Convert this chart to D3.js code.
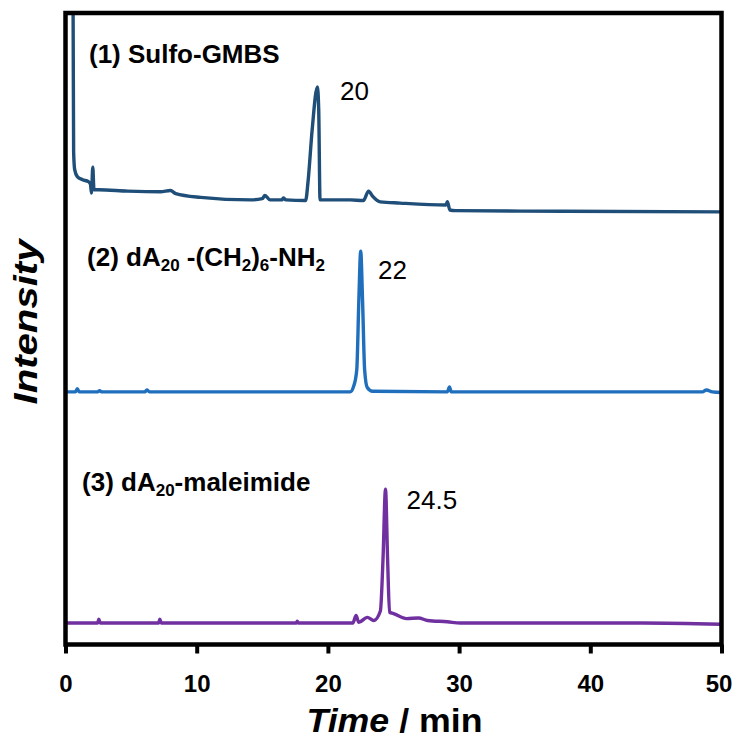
<!DOCTYPE html>
<html>
<head>
<meta charset="utf-8">
<script src="https://cdn.jsdelivr.net/npm/d3@7"></script>
<style>
  body { margin: 0; background: #fff; }
  svg { display: block; }
</style>
</head>
<body>
<svg id="chart" width="732" height="738"></svg>
<script>
// retention time (min) vs intensity (arb. units, traces already offset)
const xTicks = [0, 10, 20, 30, 40, 50];

const sulfoGMBS = [
  [0.45, 125], [0.58, 100], [0.62, 78], [0.7, 75.2], [0.9, 74.1], [1.3, 73.6], [1.75, 73.3],
  [1.9, 72.9], [1.98, 71.5], [2.08, 75.6], [2.17, 72.0], [2.52, 72.0], [4.73, 71.8],
  [7.24, 71.7], [8.0, 71.9], [8.4, 71.4], [10.3, 70.8], [14.1, 70.4], [15.0, 70.6],
  [15.2, 71.1], [15.6, 70.4], [16.5, 70.4], [16.6, 70.7], [16.8, 70.4], [18.3, 70.3],
  [18.5, 73.6], [18.8, 81.5], [19.2, 88.3], [19.3, 84.7], [19.4, 70.4], [21.7, 70.4],
  [22.7, 70.3], [23.1, 71.8], [23.4, 71.0], [24.0, 70.1], [25.5, 69.9], [29.0, 69.6],
  [29.1, 70.1], [29.3, 68.8], [29.7, 68.7], [38.0, 68.6], [50, 68.5]
];

const dA20NH2 = [
  [0, 40.0], [0.75, 40.0], [0.9, 40.5], [1.05, 40.0], [2.45, 40.0], [2.6, 40.2], [2.75, 40.0],
  [6.05, 40.0], [6.2, 40.3], [6.4, 40.0], [21.7, 40.0], [21.95, 40.8], [22.2, 43.5],
  [22.36, 54.6], [22.5, 62.3], [22.64, 54.6], [22.8, 43.5], [23.0, 40.7], [23.4, 40.1],
  [29.1, 40.0], [29.27, 40.8], [29.4, 40.0], [48.55, 40.0], [48.85, 40.3], [49.3, 40.0],
  [50, 39.9]
];

const dA20Mal = [
  [0, 3.4], [2.45, 3.4], [2.54, 4.0], [2.65, 3.4], [7.1, 3.4], [7.19, 4.0], [7.3, 3.4],
  [17.6, 3.4], [17.66, 3.7], [17.75, 3.4], [21.9, 3.4], [22.15, 4.6], [22.35, 3.5],
  [23.0, 4.3], [23.5, 3.8], [24.0, 5.3], [24.2, 13.5], [24.39, 24.6], [24.55, 13.5],
  [24.7, 5.1], [25.0, 4.9], [26.0, 4.1], [26.9, 4.2], [27.6, 3.8], [29.1, 3.6],
  [30.1, 3.4], [44.0, 3.4], [50, 3.2]
];

const seriesData = [sulfoGMBS, dA20NH2, dA20Mal];
const seriesColors = ["#1f4e79", "#1f6fbd", "#7030a0"];

// peak retention labels: [time, intensity, text]
const peakLabels = [[20.92, 86.2, "20"], [23.82, 57.8, "22"], [26.0, 21.4, "24.5"]];

// trace name labels: [time, intensity, parts]  (parts: [text, isSubscript])
const nameLabels = [
  [1.79, 92.1, [["(1) Sulfo-GMBS", false]]],
  [1.64, 59.9, [["(2) dA", false], ["20", true], [" -(CH", false], ["2", true], [")", false], ["6", true], ["-NH", false], ["2", true]]],
  [1.26, 24.3, [["(3) dA", false], ["20", true], ["-maleimide", false]]]
];

const margin = { left: 65.5, right: 10.5, top: 13, bottom: 93.5 };
const width = 732, height = 738;

const svg = d3.select("#chart");
svg.append("rect").attr("width", width).attr("height", height).attr("fill", "#fff");

const x = d3.scaleLinear().domain([0, 50]).range([margin.left, width - margin.right]);
const y = d3.scaleLinear().domain([0, 100]).range([height - margin.bottom, margin.top]);

svg.append("clipPath").attr("id", "plotclip")
  .append("rect")
  .attr("x", x(0)).attr("y", y(100))
  .attr("width", x(50) - x(0)).attr("height", y(0) - y(100));

const line = d3.line()
  .x(d => x(d[0]))
  .y(d => y(d[1]))
  .curve(d3.curveMonotoneX);

svg.append("g")
  .attr("clip-path", "url(#plotclip)")
  .selectAll("path")
  .data(seriesData)
  .join("path")
  .attr("d", line)
  .attr("fill", "none")
  .attr("stroke", (d, i) => seriesColors[i])
  .attr("stroke-width", 3.4)
  .attr("stroke-linejoin", "round");

// frame
svg.append("rect")
  .attr("x", x(0)).attr("y", y(100))
  .attr("width", x(50) - x(0)).attr("height", y(0) - y(100))
  .attr("fill", "none")
  .attr("stroke", "#000")
  .attr("stroke-width", 4.5);

// bottom axis
const xAxis = svg.append("g")
  .attr("transform", `translate(0,${y(0)})`)
  .call(d3.axisBottom(x).tickValues(xTicks).tickSize(9).tickPadding(21).tickFormat(d3.format("d")));
xAxis.select(".domain").remove();
xAxis.selectAll(".tick line").attr("stroke", "#000").attr("stroke-width", 4);
xAxis.selectAll(".tick text")
  .attr("fill", "#000")
  .attr("font-family", "Liberation Sans, Arial, sans-serif")
  .attr("font-weight", "bold")
  .attr("font-size", 24)
  .attr("dx", d => d === 50 ? -3 : 0);

// axis titles
const xTitle = svg.append("text")
  .attr("x", (x(0) + x(50)) / 2 + 1)
  .attr("y", 732)
  .attr("text-anchor", "middle")
  .attr("font-family", "Liberation Sans, Arial, sans-serif")
  .attr("font-weight", "bold")
  .attr("font-size", 33)
  .attr("textLength", 176)
  .attr("lengthAdjust", "spacingAndGlyphs");
xTitle.append("tspan").attr("font-style", "italic").text("Time");
xTitle.append("tspan").text(" / min");

svg.append("text")
  .attr("transform", `translate(37,${322}) rotate(-90)`)
  .attr("text-anchor", "middle")
  .attr("font-family", "Liberation Sans, Arial, sans-serif")
  .attr("font-weight", "bold")
  .attr("font-style", "italic")
  .attr("font-size", 33)
  .attr("textLength", 165)
  .attr("lengthAdjust", "spacingAndGlyphs")
  .text("Intensity");

// peak labels
svg.selectAll(".peak")
  .data(peakLabels)
  .join("text")
  .attr("class", "peak")
  .attr("x", d => x(d[0]))
  .attr("y", d => y(d[1]))
  .attr("font-family", "Liberation Sans, Arial, sans-serif")
  .attr("font-size", 26)
  .attr("fill", "#000")
  .text(d => d[2]);

// trace names
nameLabels.forEach(([t, v, parts]) => {
  const txt = svg.append("text")
    .attr("x", x(t))
    .attr("y", y(v))
    .attr("font-family", "Liberation Sans, Arial, sans-serif")
    .attr("font-weight", "bold")
    .attr("font-size", 26)
    .attr("fill", "#000");
  let shifted = false;
  parts.forEach(([s, sub]) => {
    const ts = txt.append("tspan").text(s);
    if (sub && !shifted) { ts.attr("dy", 5).attr("font-size", 17); shifted = true; }
    else if (sub) { ts.attr("font-size", 17); }
    else if (!sub && shifted) { ts.attr("dy", -5); shifted = false; }
  });
});
</script>
</body>
</html>
